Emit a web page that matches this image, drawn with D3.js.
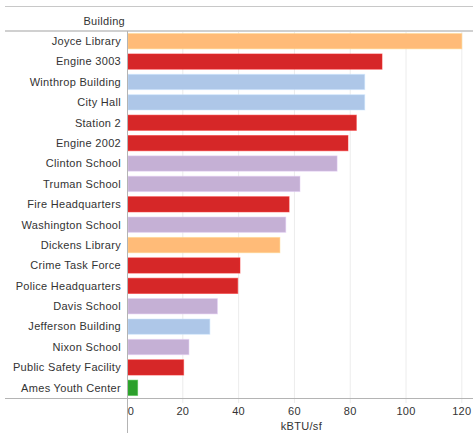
<!DOCTYPE html>
<html>
<head>
<meta charset="utf-8">
<script src="https://cdn.jsdelivr.net/npm/d3@7"></script>
<style>
  body { margin: 0; background: #fff; }
  text { font-family: Arial, "Liberation Sans", sans-serif; letter-spacing: 0.3px; }
</style>
</head>
<body>
<div id="chart"></div>
<script>
// data
const buildings = ["Joyce Library", "Engine 3003", "Winthrop Building", "City Hall", "Station 2",
  "Engine 2002", "Clinton School", "Truman School", "Fire Headquarters", "Washington School",
  "Dickens Library", "Crime Task Force", "Police Headquarters", "Davis School",
  "Jefferson Building", "Nixon School", "Public Safety Facility", "Ames Youth Center"];
const kbtu = [120, 91.4, 85.2, 85.2, 82.2, 79.2, 75.3, 62, 58.1, 56.9, 54.8, 40.5, 39.7, 32.4, 29.7, 22.2, 20.3, 3.8];
const types = ["Library", "Fire", "Office", "Office", "Fire", "Fire", "School", "School", "Fire", "School",
  "Library", "Fire", "Fire", "School", "Office", "School", "Fire", "Youth"];
const typeNames = ["Library", "Fire", "Office", "School", "Youth"];
const typeColors = ["#ffbb78", "#d62728", "#aec7e8", "#c5b0d5", "#2ca02c"];
const xTicks = [0, 20, 40, 60, 80, 100, 120];

let width = 473;
let height = 433;
let plotLeft = 127, plotTop = 31, plotBottom = 398;

let svg = d3.select("#chart").append("svg")
  .attr("width", width)
  .attr("height", height);

let x = d3.scaleLinear().domain([0, 124]).range([plotLeft, width]);
let y = d3.scaleBand().domain(buildings).range([plotTop, plotBottom]).paddingInner(0.25).paddingOuter(0.125);
let color = d3.scaleOrdinal().domain(typeNames).range(typeColors);

// gridlines
svg.append("g").selectAll("line")
  .data(xTicks.slice(1))
  .enter().append("line")
  .attr("x1", d => x(d)).attr("x2", d => x(d))
  .attr("y1", plotTop).attr("y2", plotBottom + 5)
  .attr("stroke", "#ececec");

// frame lines
svg.append("line").attr("x1", 5).attr("x2", width).attr("y1", 6.5).attr("y2", 6.5)
  .attr("stroke", "#c8c8c8");
svg.append("line").attr("x1", 5).attr("x2", width).attr("y1", 31).attr("y2", 31)
  .attr("stroke", "#d0d0d0").attr("stroke-width", 2);

// bars
svg.append("g").selectAll("rect")
  .data(buildings)
  .enter().append("rect")
  .attr("x", x(0) + 1)
  .attr("y", d => y(d))
  .attr("height", y.bandwidth())
  .attr("width", (d, i) => x(kbtu[i]) - x(0) - 1)
  .attr("fill", (d, i) => color(types[i]))
  .attr("stroke", (d, i) => d3.color(color(types[i])).brighter(0.4))
  .attr("stroke-opacity", 0.5)
  .attr("stroke-width", 1);

// category labels
svg.append("g").selectAll("text")
  .data(buildings)
  .enter().append("text")
  .attr("x", 121)
  .attr("y", d => y(d) + y.bandwidth() / 2)
  .attr("dy", "0.35em")
  .attr("text-anchor", "end")
  .attr("font-size", 11)
  .attr("fill", "#333")
  .text(d => d);

svg.append("text")
  .attr("x", 125).attr("y", 25)
  .attr("text-anchor", "end")
  .attr("font-size", 11)
  .attr("fill", "#333")
  .text("Building");

// axis lines
svg.append("line").attr("x1", 5).attr("x2", width).attr("y1", plotBottom + 0.5).attr("y2", plotBottom + 0.5)
  .attr("stroke", "#b4b4b4");
svg.append("line").attr("x1", plotLeft + 0.5).attr("x2", plotLeft + 0.5).attr("y1", plotTop).attr("y2", height)
  .attr("stroke", "#b4b4b4");

// tick labels
svg.append("g").selectAll("text")
  .data(xTicks)
  .enter().append("text")
  .attr("x", d => d === 0 ? x(d) + 4 : x(d))
  .attr("y", 415)
  .attr("text-anchor", "middle")
  .attr("font-size", 11)
  .attr("fill", "#333")
  .text(d => d);

svg.append("text")
  .attr("x", x(60) + 7).attr("y", 430)
  .attr("text-anchor", "middle")
  .attr("font-size", 11)
  .attr("fill", "#333")
  .text("kBTU/sf");
</script>
</body>
</html>
